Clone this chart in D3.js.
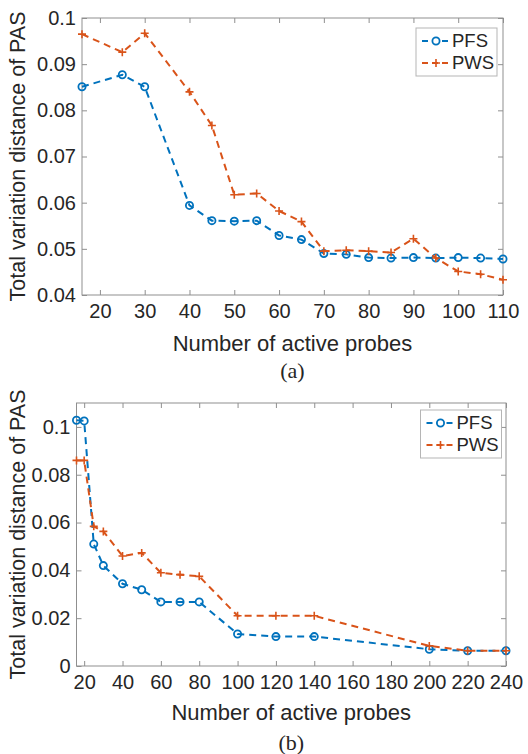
<!DOCTYPE html>
<html>
<head>
<meta charset="utf-8">
<script src="https://cdn.jsdelivr.net/npm/d3@7"></script>
<style>
  body { margin: 0; background: #fff; }
  svg { display: block; }
  text { font-family: "Liberation Sans", Arial, sans-serif; fill: #262626; }
</style>
</head>
<body>
<div id="chart"></div>
<script>
// panel (a)
const probesA = [16, 25, 30, 40, 45, 50, 55, 60, 65, 70, 75, 80, 85, 90, 95, 100, 105, 110];
const pfsA = [0.0851, 0.0877, 0.0851, 0.0594, 0.0561, 0.0560, 0.0561, 0.0529, 0.0520, 0.0490, 0.0488, 0.0481, 0.0480, 0.0481, 0.0480, 0.0481, 0.0480, 0.0478];
const pwsA = [0.0965, 0.0926, 0.0967, 0.0840, 0.0767, 0.0617, 0.0620, 0.0582, 0.0559, 0.0495, 0.0497, 0.0495, 0.0492, 0.0522, 0.0480, 0.0451, 0.0445, 0.0433];
const xTicksA = [20, 30, 40, 50, 60, 70, 80, 90, 100, 110];
const yTicksA = [0.04, 0.05, 0.06, 0.07, 0.08, 0.09, 0.1];

// panel (b)
const probesB = [16, 20, 25, 30, 40, 50, 60, 70, 80, 100, 120, 140, 200, 220, 240];
const pfsB = [0.1028, 0.1025, 0.0510, 0.0420, 0.0344, 0.0319, 0.0268, 0.0268, 0.0268, 0.0134, 0.0123, 0.0123, 0.0070, 0.0064, 0.0064];
const pwsB = [0.0860, 0.0860, 0.0584, 0.0563, 0.0460, 0.0473, 0.0390, 0.0382, 0.0375, 0.0210, 0.0210, 0.0210, 0.0084, 0.0064, 0.0064];
const xTicksB = [20, 40, 60, 80, 100, 120, 140, 160, 180, 200, 220, 240];
const yTicksB = [0, 0.02, 0.04, 0.06, 0.08, 0.1];

const seriesNames = ["PFS", "PWS"];
const colors = { PFS: "#0072BD", PWS: "#D95319" };

const svg = d3.select("#chart").append("svg")
  .attr("width", 528).attr("height", 754);

function drawPanel(cfg) {
  const { left, top, width, height, xDomain, yDomain, xTicks, yTicks, x, series, tag, legend, labelGap } = cfg;
  const g = svg.append("g").attr("transform", `translate(${left},${top})`);

  const xScale = d3.scaleLinear().domain(xDomain).range([0, width]);
  const yScale = d3.scaleLinear().domain(yDomain).range([height, 0]);
  const tickLen = 5;
  const axisColor = "#8f8f8f";

  // box
  g.append("rect").attr("width", width).attr("height", height)
    .attr("fill", "none").attr("stroke", axisColor).attr("stroke-width", 1);

  // ticks point inward on all four sides
  const xAxis = g.append("g").attr("transform", `translate(0,${height})`)
    .call(d3.axisBottom(xScale).tickValues(xTicks).tickSizeInner(-tickLen).tickSizeOuter(0).tickPadding(9));
  const xAxisTop = g.append("g")
    .call(d3.axisTop(xScale).tickValues(xTicks).tickSizeInner(-tickLen).tickSizeOuter(0).tickFormat(""));
  const yAxis = g.append("g")
    .call(d3.axisLeft(yScale).tickValues(yTicks).tickSizeInner(-tickLen).tickSizeOuter(0).tickPadding(6)
      .tickFormat(d => d3.format("")(+d.toFixed(2))));
  const yAxisRight = g.append("g").attr("transform", `translate(${width},0)`)
    .call(d3.axisRight(yScale).tickValues(yTicks).tickSizeInner(-tickLen).tickSizeOuter(0).tickFormat(""));

  [xAxis, xAxisTop, yAxis, yAxisRight].forEach(a => {
    a.select(".domain").remove();
    a.selectAll(".tick line").attr("stroke", axisColor);
    a.selectAll(".tick text").style("font-size", "20px").attr("fill", "#262626")
      .style("font-family", "'Liberation Sans', Arial, sans-serif");
  });
  xAxis.selectAll(".tick text").attr("dy", "0.71em");

  // lines and markers
  const line = d3.line().x((d, i) => xScale(x[i])).y(d => yScale(d));
  series.forEach(s => {
    g.append("path").datum(s.values)
      .attr("fill", "none").attr("stroke", colors[s.name]).attr("stroke-width", 2)
      .attr("stroke-dasharray", "7,5").attr("d", line);
    const pts = g.append("g").selectAll("g").data(s.values).join("g")
      .attr("transform", (d, i) => `translate(${xScale(x[i])},${yScale(d)})`);
    if (s.name === "PFS") {
      pts.append("circle").attr("r", 3.6).attr("fill", "none")
        .attr("stroke", colors.PFS).attr("stroke-width", 1.8);
    } else {
      pts.append("path").attr("d", "M-4,0H4M0,-4V4")
        .attr("stroke", colors.PWS).attr("stroke-width", 1.6);
    }
  });

  // legend
  const lg = g.append("g").attr("transform", `translate(${legend.x},${legend.y})`);
  lg.append("rect").attr("width", 81).attr("height", 48)
    .attr("fill", "#fff").attr("stroke", "#b5b5b5").attr("stroke-width", 1);
  seriesNames.forEach((name, i) => {
    const row = lg.append("g").attr("transform", `translate(0,${13 + i * 22})`);
    row.append("line").attr("x1", 6).attr("x2", 34).attr("y1", 0).attr("y2", 0)
      .attr("stroke", colors[name]).attr("stroke-width", 2).attr("stroke-dasharray", "6,4");
    if (name === "PFS") {
      row.append("circle").attr("cx", 20).attr("r", 3.6).attr("fill", "#fff")
        .attr("stroke", colors.PFS).attr("stroke-width", 1.8);
    } else {
      row.append("path").attr("d", "M16,0H24M20,-4V4")
        .attr("stroke", colors.PWS).attr("stroke-width", 1.6);
    }
    row.append("text").attr("x", 36).attr("y", 0).attr("dy", "0.35em")
      .style("font-size", "18.5px").text(name);
  });

  // axis titles
  g.append("text").attr("x", width / 2).attr("y", height + labelGap)
    .attr("text-anchor", "middle").attr("dy", "0.35em")
    .style("font-size", "22px").text("Number of active probes");
  g.append("text")
    .attr("transform", `translate(${-left + 17},${height / 2}) rotate(-90)`)
    .attr("text-anchor", "middle").attr("dy", "0.35em")
    .style("font-size", "21.5px").text("Total variation distance of PAS");
  g.append("text").attr("x", width / 2).attr("y", tag.y)
    .attr("text-anchor", "middle").attr("dy", "0.35em")
    .style("font-family", "'Liberation Serif', 'Times New Roman', serif")
    .style("font-size", "22px").text(tag.text);
}

drawPanel({
  left: 82, top: 18, width: 421, height: 277,
  xDomain: [16, 110], yDomain: [0.04, 0.1],
  xTicks: xTicksA, yTicks: yTicksA, x: probesA,
  series: [{ name: "PFS", values: pfsA }, { name: "PWS", values: pwsA }],
  tag: { text: "(a)", y: 352 }, labelGap: 48,
  legend: { x: 334, y: 10 }
});

drawPanel({
  left: 76.5, top: 403, width: 429.5, height: 263,
  xDomain: [16, 240], yDomain: [0, 0.11],
  xTicks: xTicksB, yTicks: yTicksB, x: probesB,
  series: [{ name: "PFS", values: pfsB }, { name: "PWS", values: pwsB }],
  tag: { text: "(b)", y: 339 }, labelGap: 46,
  legend: { x: 344, y: 7 }
});
</script>
</body>
</html>
